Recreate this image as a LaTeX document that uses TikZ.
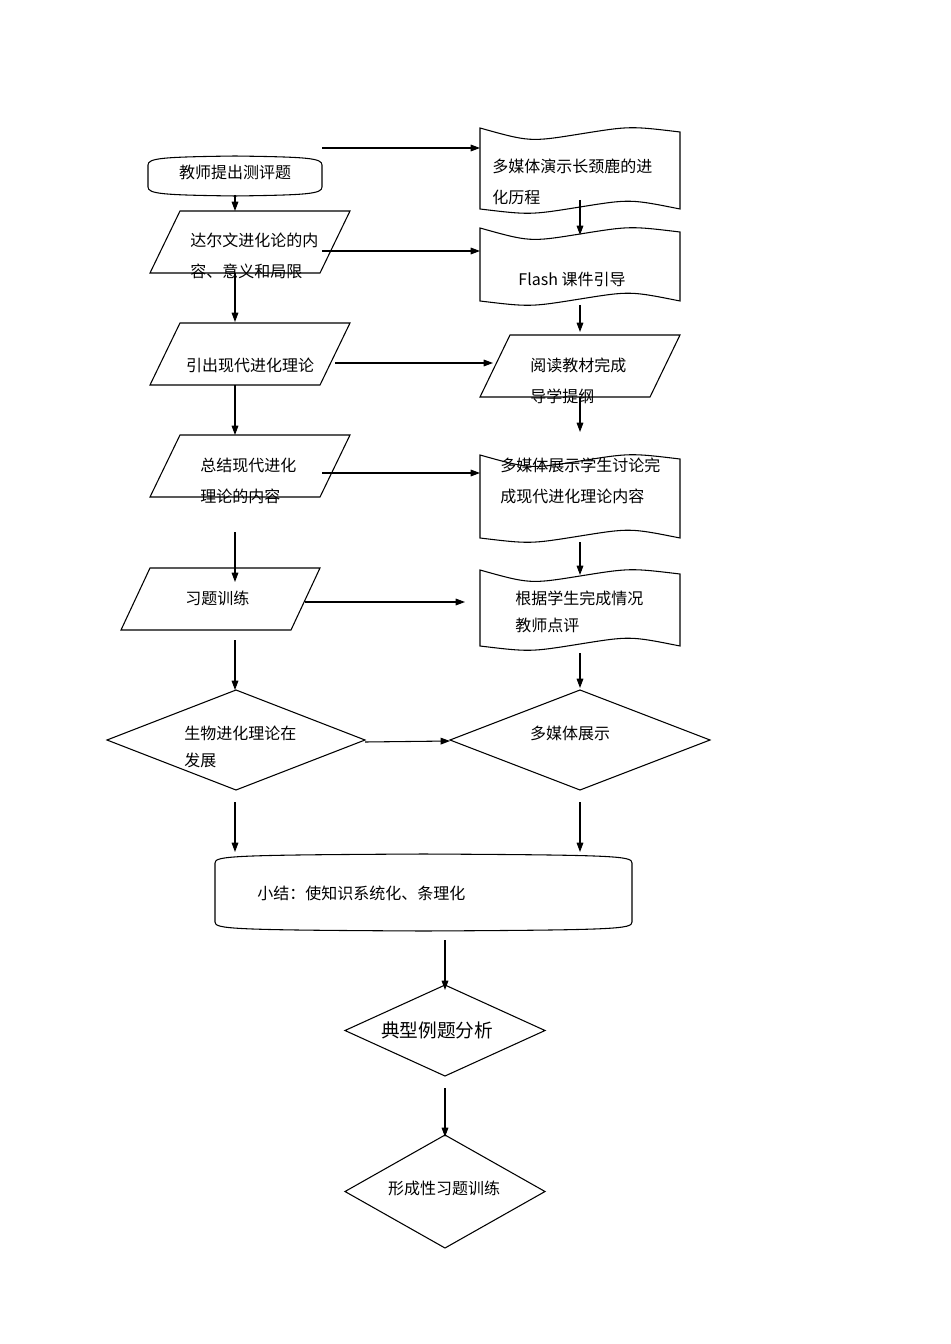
\documentclass[tikz,border=0pt]{standalone}
\usepackage{fontspec}
\setmainfont{Noto Sans CJK SC}
\usetikzlibrary{arrows.meta}
\newcommand\tapeshape[4]{% x1 y1 x2 y2
  \draw[shp] (#1,#2) .. controls ({#1+(#3-#1)/4},{#2+14}) and ({#1+(#3-#1)/4},{#2+14}) .. ({(#1+#3)/2},{#2+6})
    .. controls ({#1+3*(#3-#1)/4},{#2-2}) and ({#1+3*(#3-#1)/4},{#2-2}) .. (#3,#2+4)
    -- (#3,#4-4) .. controls ({#1+3*(#3-#1)/4},{#4-14}) and ({#1+3*(#3-#1)/4},{#4-14}) .. ({(#1+#3)/2},{#4-6})
    .. controls ({#1+(#3-#1)/4},{#4+2}) and ({#1+(#3-#1)/4},{#4+2}) .. (#1,#4-4) -- cycle;}
\newcommand\paral[5]{% topleft x, top y, bottomleft x, bottom y, width
  \draw[shp] (#1,#2) -- ({#1+#5},#2) -- ({#3+#5},#4) -- (#3,#4) -- cycle;}
\newcommand\termshape[4]{%
  \draw[shp] (#1,#2+8) .. controls (#1,#2+1) and (#1+15,#2) .. ({(#1+#3)/2},#2-1)
   .. controls (#3-15,#2) and (#3,#2+1) .. (#3,#2+8) -- (#3,#4-8)
   .. controls (#3,#4-1) and (#3-15,#4) .. ({(#1+#3)/2},#4+1)
   .. controls (#1+15,#4) and (#1,#4-1) .. (#1,#4-8) -- cycle;}
\newcommand\diam[4]{%
  \draw[shp] (#1,{(#2+#4)/2}) -- ({(#1+#3)/2},#2) -- (#3,{(#2+#4)/2}) -- ({(#1+#3)/2},#4) -- cycle;}
\tikzset{shp/.style={draw=black,line width=0.8pt},
  arr/.style={-{Triangle[length=7pt,width=5pt]},line width=0.8pt},
  txt/.style={font=\fontsize{12}{14}\selectfont,inner sep=0pt},
  ltxt/.style={txt,anchor=west}}
\begin{document}
\begin{tikzpicture}[x=0.75pt,y=-0.75pt]
\useasboundingbox[fill=white] (0,0) rectangle (950,1344);
% shapes
\termshape{148}{157}{322}{195}
\tapeshape{480}{128}{680}{213}
\paral{180}{211}{150}{273}{170}
\tapeshape{480}{228}{680}{305}
\paral{180}{323}{150}{385}{170}
\paral{510}{335}{480}{397}{170}
\paral{180}{435}{150}{497}{170}
\tapeshape{480}{455}{680}{542}
\paral{150}{568}{121}{630}{170}
\tapeshape{480}{570}{680}{650}
\diam{107}{690}{365}{790}
\diam{450}{690}{710}{790}
\termshape{215}{855}{632}{930}
\diam{345}{985}{545}{1076}
\diam{345}{1135}{545}{1248}
% texts
\node[txt] (t1) at (235,172) {教师提出测评题};
\node[ltxt] (d1a) at (492,166) {多媒体演示长颈鹿的进};
\node[ltxt] (d1b) at (492,197) {化历程};
\node[ltxt] (p1a) at (190,240) {达尔文进化论的内};
\node[ltxt] (p1b) at (190,271) {容、意义和局限};
\node[txt] (d2) at (572,279) {Flash 课件引导};
\node[txt] (p2) at (250,365) {引出现代进化理论};
\node[ltxt] (p3a) at (530,365) {阅读教材完成};
\node[ltxt] (p3b) at (530,396) {导学提纲};
\node[ltxt] (p4a) at (200,465) {总结现代进化};
\node[ltxt] (p4b) at (200,496) {理论的内容};
\node[ltxt] (d3a) at (500,465) {多媒体展示学生讨论完};
\node[ltxt] (d3b) at (500,496) {成现代进化理论内容};
\node[ltxt] (p5) at (185,598) {习题训练};
\node[ltxt] (d4a) at (515,598) {根据学生完成情况};
\node[ltxt] (d4b) at (515,625) {教师点评};
\node[ltxt] (q1a) at (184,733) {生物进化理论在};
\node[ltxt] (q1b) at (184,760) {发展};
\node[txt] (q2) at (570,733) {多媒体展示};
\node[ltxt] (s) at (257,893) {小结：使知识系统化、条理化};
\node[txt,font=\fontsize{14}{16}\selectfont] (q3) at (437,1030) {典型例题分析};
\node[txt] (q4) at (444,1188) {形成性习题训练};
% arrow coordinates
\foreach \n/\x/\y in {a1/322/148,a2/480/148,b1/235/195,b2/235/211,c1/322/251,c2/480/251,
  e1/580/200,e2/580/235,f1/235/273,f2/235/322,g1/580/305,g2/580/332,h1/335/363,h2/493/363,
  i1/580/397,i2/580/432,j1/235/385,j2/235/435,k1/322/473,k2/480/473,l1/580/542,l2/580/575,
  m1/235/532,m2/235/582,n1/305/602,n2/465/602,o1/235/640,o2/235/690,p1/580/653,p2/580/688,
  r1/365/742,r2/450/741,u1/235/802,u2/235/852,v1/580/802,v2/580/852,w1/445/940,w2/445/990,
  z1/445/1088,z2/445/1137}
  {\coordinate (\n) at (\x,\y);}
\foreach \s in {a,b,c,e,f,g,h,i,j,k,l,m,n,o,p,r,u,v,w,z}
  \draw[arr] (\s1) -- (\s2);
\end{tikzpicture}
\end{document}
